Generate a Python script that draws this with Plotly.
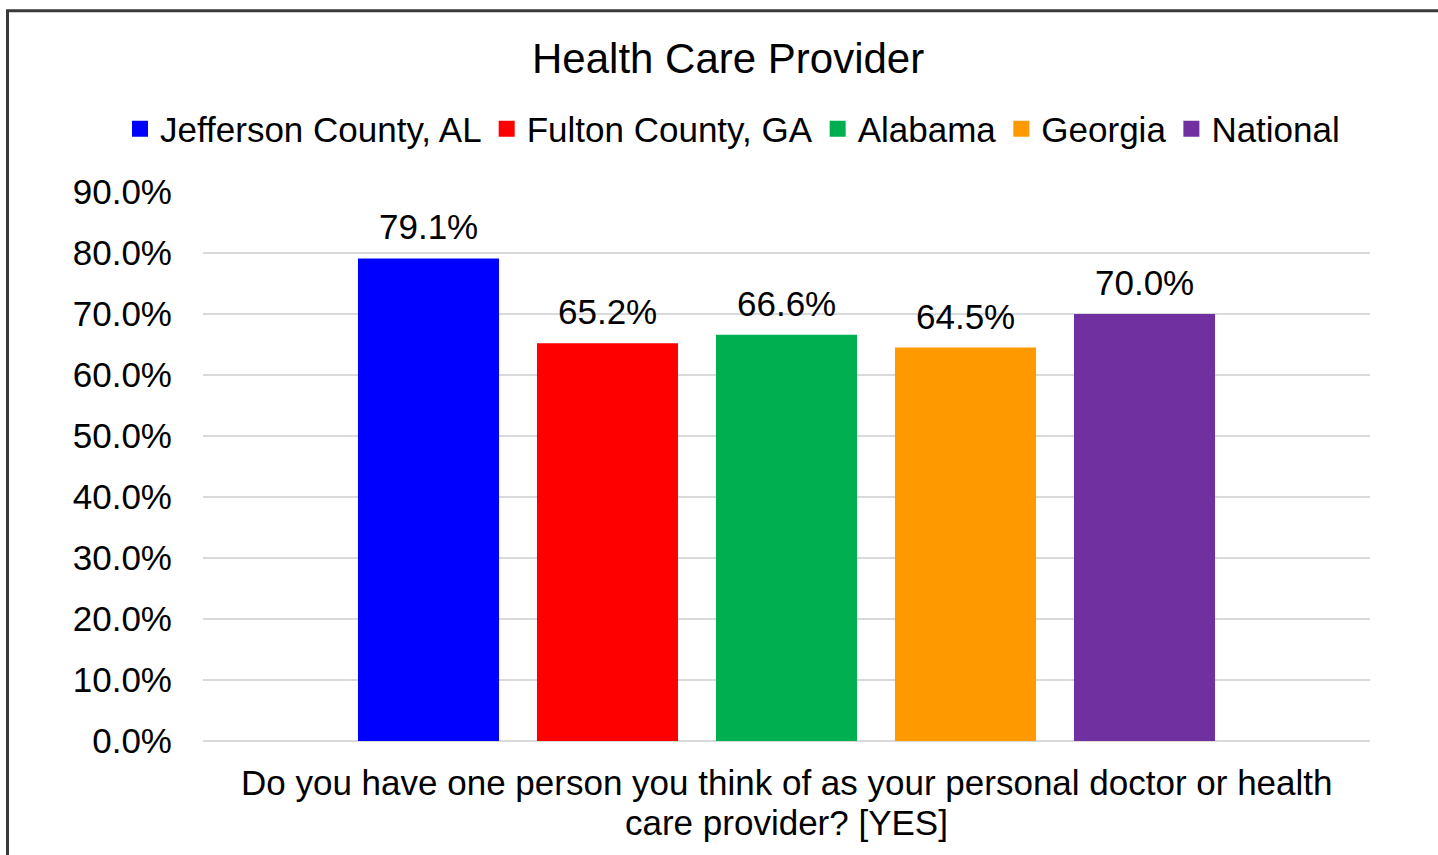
import plotly.graph_objects as go

series = ["Jefferson County, AL", "Fulton County, GA", "Alabama", "Georgia", "National"]
values = [79.1, 65.2, 66.6, 64.5, 70.0]
colors = ["#0000FF", "#FF0000", "#00B050", "#FF9900", "#7030A0"]
y_ticks = [0, 10, 20, 30, 40, 50, 60, 70, 80, 90]
title_text = "Health Care Provider"
x_title_lines = ["Do you have one person you think of as your personal doctor or health",
                 "care provider? [YES]"]

FONT = "Liberation Sans, Arial, sans-serif"

W, H = 1438, 855
L, R, T, B = 203, 68, 192, 114
pw = W - L - R
ph = H - T - B

fig = go.Figure()
for i, (name, v, c) in enumerate(zip(series, values, colors)):
    fig.add_trace(go.Bar(
        x=[i], y=[v], name=name, marker=dict(color=c, line=dict(width=0)),
        width=0.788, showlegend=False,
    ))
    fig.add_annotation(
        x=i, y=v, text=f"{v:.1f}%", showarrow=False, yanchor="bottom",
        yshift=10, font=dict(family=FONT, size=35, color="#000000"),
    )
# legend entries (square swatches)
for name, c in zip(series, colors):
    fig.add_trace(go.Scatter(
        x=[None], y=[None], mode="markers", name=name,
        marker=dict(symbol="square", size=16, color=c),
        showlegend=True, hoverinfo="skip",
    ))

slot = 179.0
ncat = pw / slot
extra = (ncat - 5) / 2

extra_ann = [
    dict(text=title_text, xref="paper", yref="paper",
         x=(727.5 - L) / pw, y=(H - B - 58) / ph, xanchor="center", yanchor="middle",
         showarrow=False, font=dict(family=FONT, size=42, color="#000000")),
]
for line, ypix in zip(x_title_lines, [782, 822]):
    extra_ann.append(dict(text=line, xref="paper", yref="paper",
                          x=0.5, y=(H - B - ypix) / ph, xanchor="center", yanchor="middle",
                          showarrow=False, font=dict(family=FONT, size=35, color="#000000")))

fig.update_layout(
    width=W, height=H,
    margin=dict(l=L, r=R, t=T, b=B, pad=0),
    paper_bgcolor="white", plot_bgcolor="white",
    barmode="overlay",
    font=dict(family=FONT, size=35, color="#000000"),
    showlegend=True,
    legend=dict(
        orientation="h", x=(120 - L) / pw, xanchor="left",
        y=(H - B - 129) / ph, yanchor="middle",
        font=dict(family=FONT, size=35, color="#000000"),
        itemwidth=30, tracegroupgap=0, bgcolor="rgba(0,0,0,0)",
        itemsizing="trace",
    ),
    annotations=list(fig.layout.annotations) + extra_ann,
    shapes=[dict(type="rect", xref="paper", yref="paper",
                 x0=(7.5 - L) / pw, x1=(1470 - L) / pw,
                 y0=(H - B - 900) / ph, y1=(H - B - 10.8) / ph,
                 line=dict(color="#3A3A3A", width=3), fillcolor="rgba(0,0,0,0)", layer="above")],
)

fig.update_xaxes(
    range=[-0.5 - extra, 4.5 + extra], showticklabels=False, showgrid=False,
    zeroline=False, showline=False, ticks="", fixedrange=True,
)
fig.update_yaxes(
    range=[0, 90], tickvals=y_ticks, ticktext=[f"{t:.1f}%" for t in y_ticks],
    showgrid=True, gridcolor="#D9D9D9", gridwidth=2,
    zeroline=True, zerolinecolor="#D9D9D9", zerolinewidth=2,
    showline=False, ticks="", ticklabelstandoff=30,
    tickfont=dict(family=FONT, size=35, color="#000000"), fixedrange=True,
)

fig.write_html("out.html", config={"displayModeBar": False},
               post_script="document.body.style.margin='0px';")
